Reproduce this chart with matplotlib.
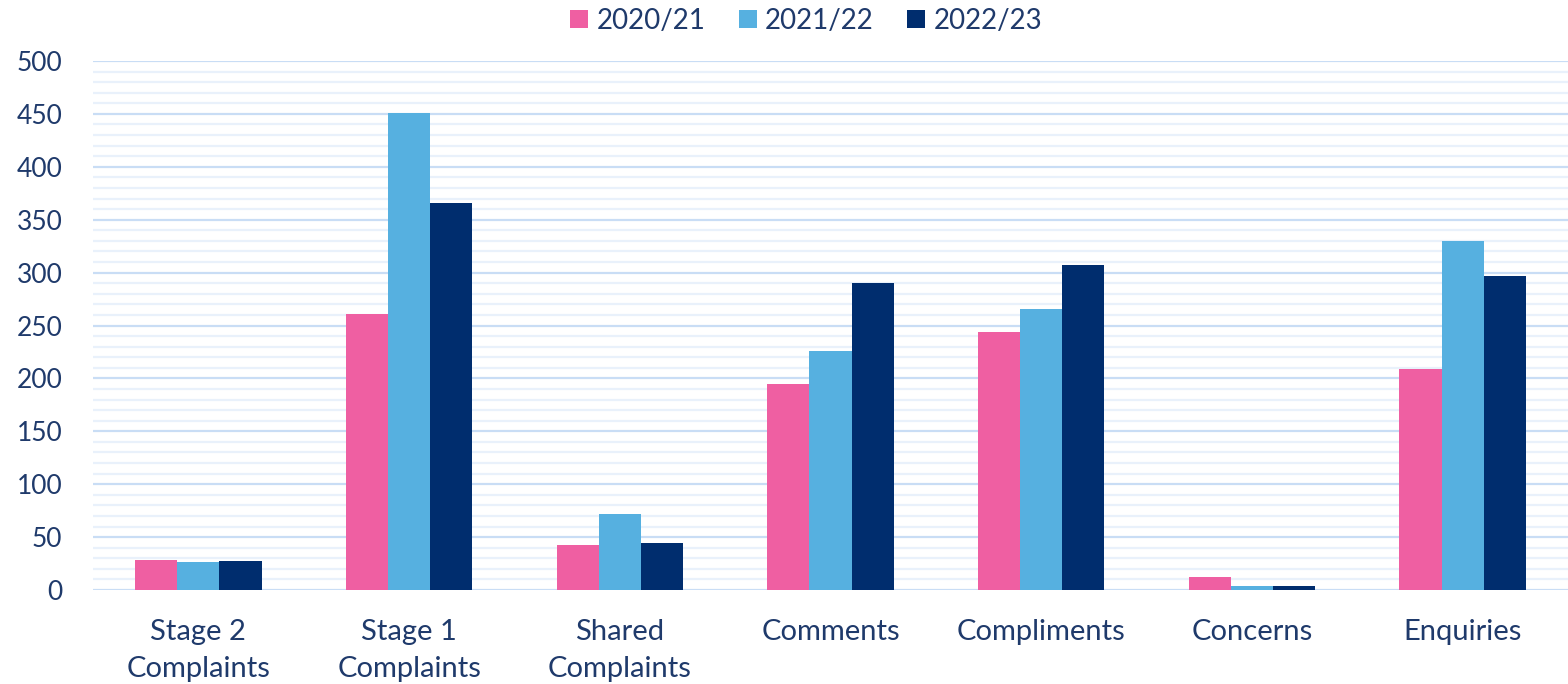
import numpy as np
from matplotlib import pyplot as plt

categories = ["Stage 2\nComplaints", "Stage 1\nComplaints", "Shared\nComplaints",
              "Comments", "Compliments", "Concerns", "Enquiries"]
years = ["2020/21", "2021/22", "2022/23"]
y2021 = [28, 261, 43, 195, 244, 12, 209]
y2122 = [26, 451, 72, 226, 266, 4, 330]
y2223 = [27, 366, 44, 290, 307, 4, 297]
colors = ["#EF5FA2", "#56B0E0", "#002D6E"]

text_col = "#1F3A6B"
plt.rcParams['font.family'] = ['Lato', 'DejaVu Sans']

fig = plt.figure(figsize=(15.68, 6.84), dpi=100)
ax = fig.add_axes([93/1568, 1 - 590/684, 1 - 93/1568, (590 - 61)/684])

x = np.arange(len(categories))
w = 0.2
for i, vals in enumerate([y2021, y2122, y2223]):
    ax.bar(x + (i - 1)*w, vals, w, color=colors[i], label=years[i], zorder=3)

ax.set_xlim(-0.5, len(categories) - 0.5)
ax.set_ylim(0, 500)
ax.set_yticks(np.arange(0, 501, 50))
ax.set_yticks(np.arange(0, 501, 10), minor=True)
ax.grid(axis='y', which='major', color="#C9DDF5", linewidth=1.6, zorder=0)
ax.grid(axis='y', which='minor', color="#E9F1FB", linewidth=1.6, zorder=0)
ax.set_xticks(x)
ax.set_xticklabels(categories, fontsize=21, color=text_col, linespacing=1.5)
ax.tick_params(axis='y', labelsize=19, labelcolor=text_col, length=0, pad=22, which='both')
ax.tick_params(axis='x', length=0, pad=21)
for s in ax.spines.values():
    s.set_visible(False)
ax.axhline(0, color="#C9DDF5", linewidth=2, zorder=2)

fig.legend(loc='upper center', bbox_to_anchor=(0.514, 1.025),
           ncol=3, frameon=False, fontsize=20, handlelength=0.65, handleheight=0.65,
           handletextpad=0.3, columnspacing=1.2, labelcolor=text_col)

fig.savefig("out.png", dpi=100)
